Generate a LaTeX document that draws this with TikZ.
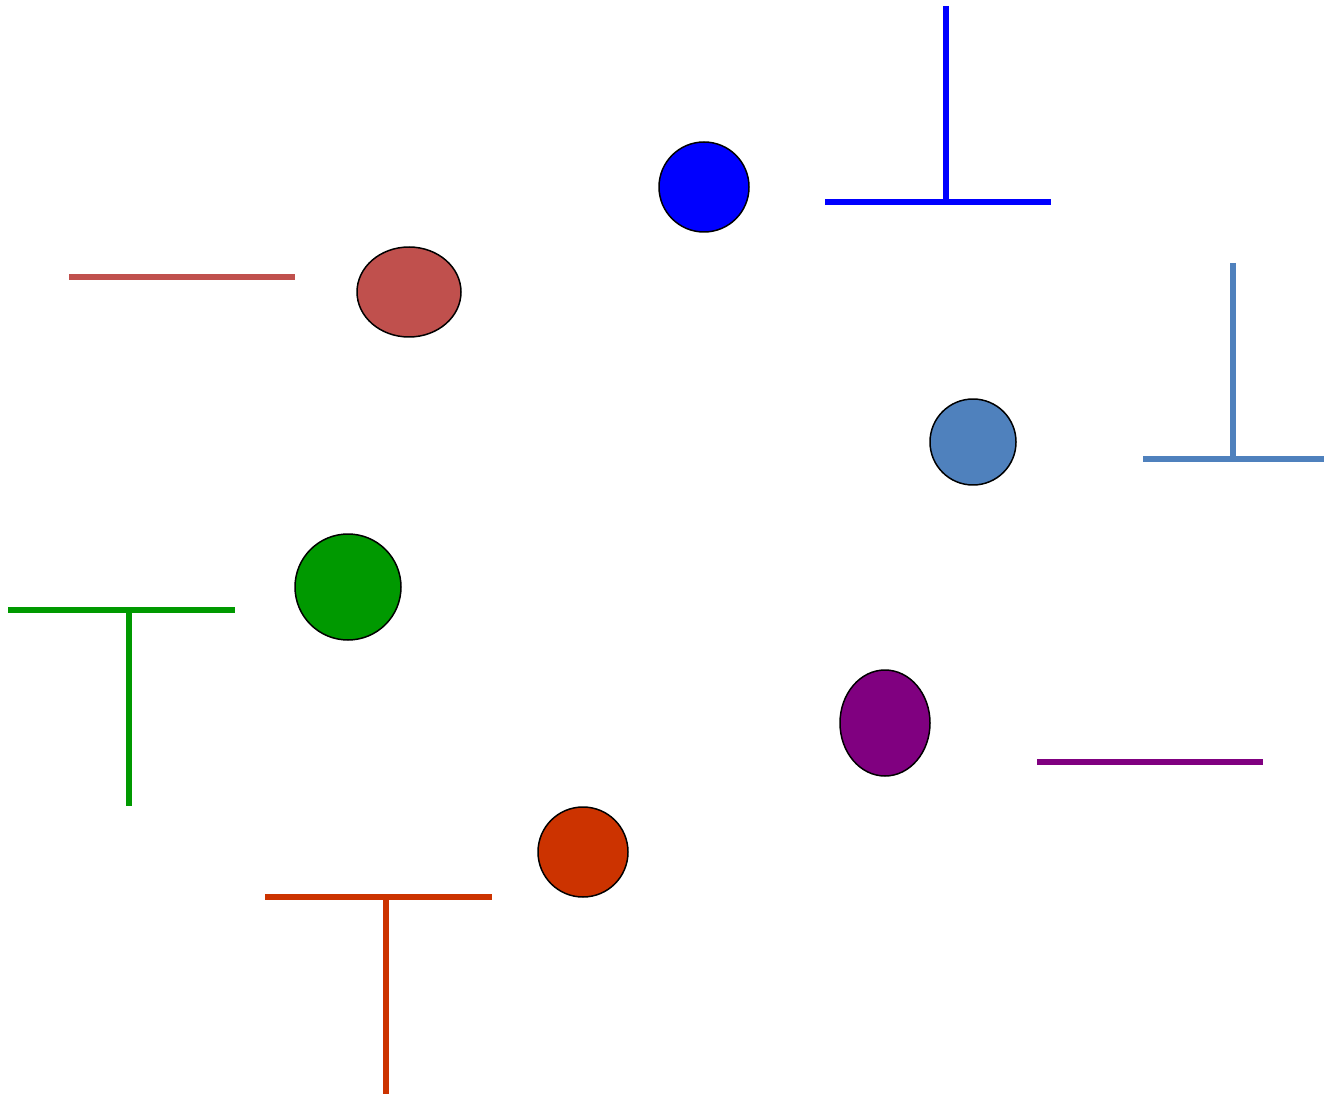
\documentclass[tikz,border=0pt]{standalone}
\definecolor{cblue}{HTML}{0000FF}
\definecolor{cbrick}{HTML}{C0504D}
\definecolor{csteel}{HTML}{4F81BD}
\definecolor{cgreen}{HTML}{009900}
\definecolor{cpurple}{HTML}{800080}
\definecolor{corange}{HTML}{CC3300}
\begin{document}
\begin{tikzpicture}[x=0.02cm,y=-0.02cm,
  blob/.style={draw=black,line width=0.85pt},
  bar/.style={line width=0.12cm}]
\useasboundingbox (0,0) rectangle (1324,1094);
% blue
\fill[cblue,blob] (704,187) circle[radius=45];
\draw[cblue,bar] (825,202) -- (1051,202);
\draw[cblue,bar] (946,6) -- (946,202);
% brick
\fill[cbrick,blob] (409,292) ellipse[x radius=52,y radius=45];
\draw[cbrick,bar] (69,277) -- (295,277);
% steel
\fill[csteel,blob] (973,442) circle[radius=43];
\draw[csteel,bar] (1143,459) -- (1324,459);
\draw[csteel,bar] (1233,263) -- (1233,459);
% green
\fill[cgreen,blob] (348,587) circle[radius=53];
\draw[cgreen,bar] (8,610) -- (235,610);
\draw[cgreen,bar] (129,610) -- (129,806);
% purple
\fill[cpurple,blob] (885,723) ellipse[x radius=45,y radius=53];
\draw[cpurple,bar] (1037,762) -- (1263,762);
% orange
\fill[corange,blob] (583,852) circle[radius=45];
\draw[corange,bar] (265,897) -- (492,897);
\draw[corange,bar] (386,897) -- (386,1094);
\end{tikzpicture}
\end{document}
